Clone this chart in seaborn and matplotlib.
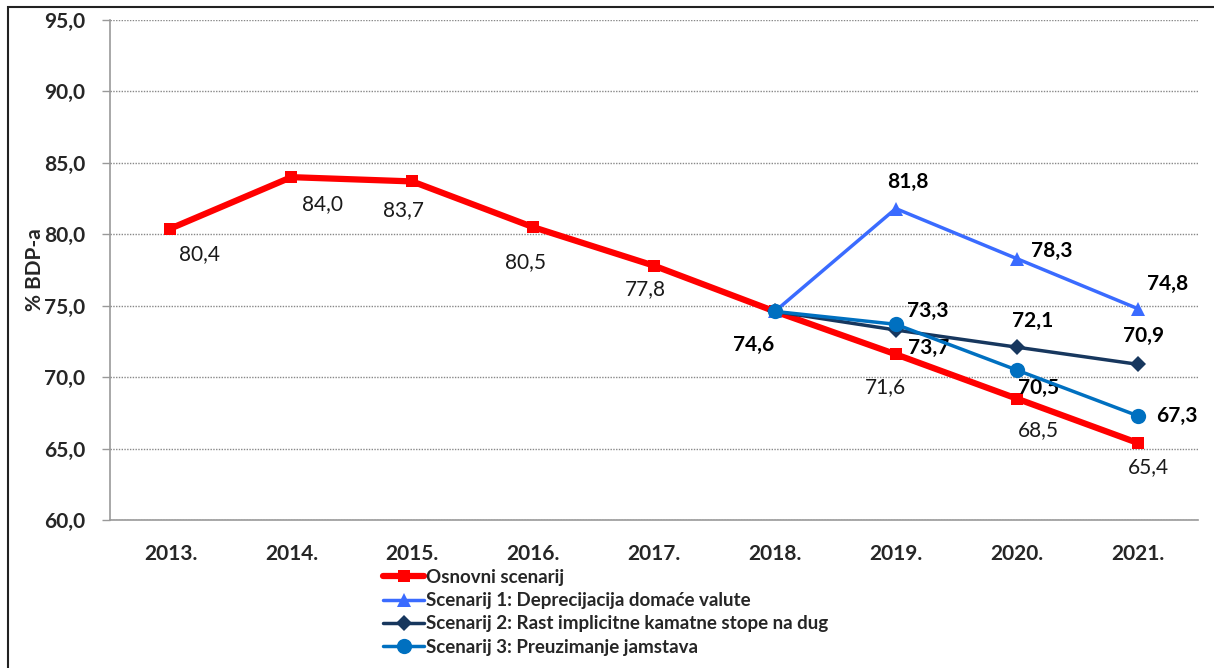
import matplotlib
matplotlib.use("Agg")
import matplotlib.pyplot as plt
import seaborn as sns
import pandas as pd
import numpy as np
from matplotlib.patches import Rectangle

years = ["2013.", "2014.", "2015.", "2016.", "2017.", "2018.", "2019.", "2020.", "2021."]
osnovni = [80.4, 84.0, 83.7, 80.5, 77.8, 74.6, 71.6, 68.5, 65.4]
scen_years = ["2018.", "2019.", "2020.", "2021."]
scen1 = [74.6, 81.8, 78.3, 74.8]
scen2 = [74.6, 73.3, 72.1, 70.9]
scen3 = [74.6, 73.7, 70.5, 67.3]
names = ["Osnovni scenarij",
         "Scenarij 1: Deprecijacija domaće valute",
         "Scenarij 2: Rast implicitne kamatne stope na dug",
         "Scenarij 3: Preuzimanje jamstava"]
yticks = [60, 65, 70, 75, 80, 85, 90, 95]

sns.set_theme(style="white")
plt.rcParams['font.family'] = ['Lato', 'DejaVu Sans']

FS = 15

fig = plt.figure(figsize=(12.14, 6.68), dpi=100)
ax = fig.add_axes([110/1214, 1-520/668, (1198-110)/1214, 500/668])

pos = {y: i for i, y in enumerate(years)}
df0 = pd.DataFrame({"x": [pos[y] for y in years], "v": osnovni})
df1 = pd.DataFrame({"x": [pos[y] for y in scen_years], "v": scen1})
df2 = pd.DataFrame({"x": [pos[y] for y in scen_years], "v": scen2})
df3 = pd.DataFrame({"x": [pos[y] for y in scen_years], "v": scen3})

sns.lineplot(data=df0, x="x", y="v", ax=ax, color="#FF0000", lw=4.5, marker="s",
             markersize=9, markeredgewidth=0, label=names[0], zorder=3)
sns.lineplot(data=df1, x="x", y="v", ax=ax, color="#3A6BFF", lw=2.5, marker="^",
             markersize=10.5, markeredgewidth=0, label=names[1], zorder=4)
sns.lineplot(data=df2, x="x", y="v", ax=ax, color="#17375E", lw=2.5, marker="D",
             markersize=8, markeredgewidth=0, label=names[2], zorder=5)
sns.lineplot(data=df3, x="x", y="v", ax=ax, color="#0070C0", lw=2.5, marker="o",
             markersize=11, markeredgewidth=0, label=names[3], zorder=6)

ax.set_xlim(-0.5, 8.5)
ax.set_ylim(60, 95)
ax.set_yticks(yticks)
ax.set_yticklabels([f"{v:.1f}".replace(".", ",") for v in yticks],
                   fontsize=FS, fontweight="bold")
ax.set_xticks(range(len(years)))
ax.set_xticklabels(years, fontsize=FS, fontweight="bold")
ax.set_xticks(np.arange(-0.5, 9, 1), minor=True)
ax.tick_params(axis="x", which="major", length=0, pad=17)
ax.tick_params(axis="x", which="minor", length=6, color="#BBBBBB", width=1, direction="out")
ax.tick_params(axis="y", which="major", length=6, color="#999999", width=1, direction="out", pad=12, left=True)
ax.set_xlabel("")
ax.set_ylabel("% BDP-a", fontsize=FS, fontweight="bold")
ax.yaxis.set_label_coords((45 - 110) / 1088, 0.5)
ax.grid(axis="y", color="#888888", linestyle=(0, (1, 1)), lw=1)
for s in ["top", "right"]:
    ax.spines[s].set_visible(False)
ax.spines["left"].set_color("#999999")
ax.spines["bottom"].set_color("#999999")
ax.spines["left"].set_linewidth(1.2)
ax.spines["bottom"].set_linewidth(1.2)

def fmt(v):
    return f"{v:.1f}".replace(".", ",")

# Label offsets in pixels (dx, dy)
off0 = [(29, -26), (31, -27), (-9, -29), (-8, -35), (-9, -23), (None, None), (-10, -33), (22, -32), (11, -24)]
for i, v in enumerate(osnovni):
    if off0[i][0] is None:
        continue
    ax.annotate(fmt(v), (i, v), xytext=off0[i], textcoords="offset pixels",
                ha="center", va="center", fontsize=FS, color="#1a1a1a")
# 2018 common label
ax.annotate(fmt(osnovni[5]), (5, osnovni[5]), xytext=(-21, -34), textcoords="offset pixels",
            ha="center", va="center", fontsize=FS, fontweight="bold", color="black")

off1 = [None, (12, 27), (35, 8), (30, 25)]
off2 = [None, (32, 19), (16, 26), (6, 28)]
off3 = [None, (33, -24), (22, -18), (39, 0)]
for vals, offs in [(scen1, off1), (scen2, off2), (scen3, off3)]:
    for j, v in enumerate(vals):
        if offs[j] is None:
            continue
        ax.annotate(fmt(v), (pos[scen_years[j]], v), xytext=offs[j], textcoords="offset pixels",
                    ha="center", va="center", fontsize=FS, fontweight="bold", color="black")

ax.legend_.remove()
handles, labels = ax.get_legend_handles_labels()
leg = fig.legend(handles, labels, loc="upper left", bbox_to_anchor=(383/1214, 1-569/668),
                 frameon=False, prop={"weight": "bold", "size": 13.5}, handlelength=2.2,
                 handletextpad=0.1, labelspacing=0.33, borderaxespad=0, borderpad=0)

# outer border (top and left visible)
fig.patches.append(Rectangle((8/1214, -0.1), 1.2, 1 - 6.5/668 + 0.1, transform=fig.transFigure,
                             fill=False, edgecolor="#222222", lw=1.5, zorder=0))

fig.savefig("out.png", dpi=100)
